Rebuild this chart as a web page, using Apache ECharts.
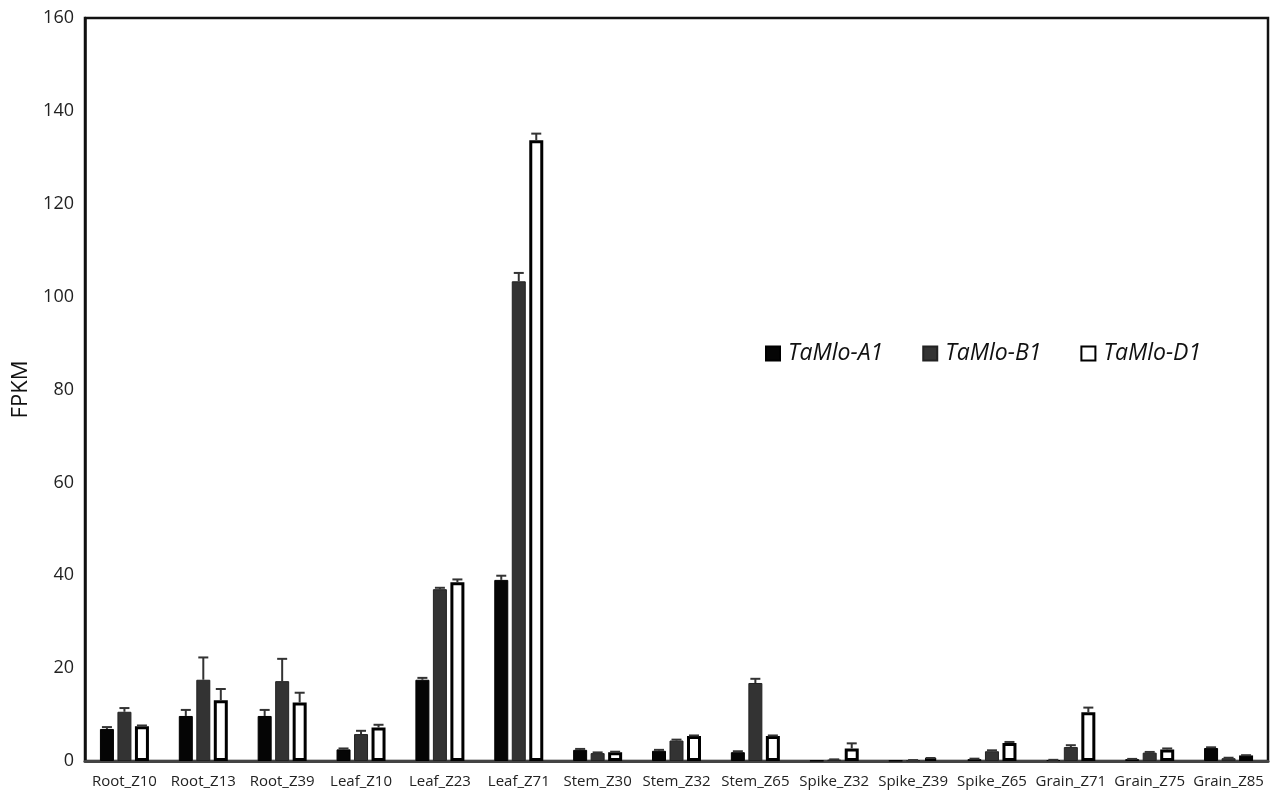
<!DOCTYPE html>
<html>
<head>
<meta charset="utf-8">
<script src="https://cdn.jsdelivr.net/npm/echarts@6/dist/echarts.min.js"></script>
<style>
  html, body { margin: 0; padding: 0; background: #fff; }
  #chart { width: 1276px; height: 792px; }
</style>
</head>
<body>
<div id="chart"></div>
<script>
// Tissue / developmental stage samples
const categories = ['Root_Z10', 'Root_Z13', 'Root_Z39', 'Leaf_Z10', 'Leaf_Z23', 'Leaf_Z71',
  'Stem_Z30', 'Stem_Z32', 'Stem_Z65', 'Spike_Z32', 'Spike_Z39', 'Spike_Z65',
  'Grain_Z71', 'Grain_Z75', 'Grain_Z85'];

// Mean FPKM per homoeolog and the upward error (SD)
const a1 = [6.9, 9.7, 9.7, 2.5, 17.5, 39.0, 2.4, 2.2, 1.9, 0.1, 0.1, 0.4, 0.2, 0.4, 2.8];
const a1Err = [0.4, 1.3, 1.3, 0.2, 0.4, 0.9, 0.2, 0.2, 0.2, 0, 0, 0.1, 0.05, 0.05, 0.15];
const b1 = [10.6, 17.5, 17.2, 5.8, 37.0, 103.3, 1.7, 4.4, 16.8, 0.3, 0.15, 2.1, 3.0, 1.8, 0.6];
const b1Err = [0.8, 4.8, 4.8, 0.7, 0.3, 1.8, 0.15, 0.2, 0.9, 0.05, 0.05, 0.2, 0.4, 0.15, 0.1];
const d1 = [7.5, 13.1, 12.6, 7.2, 38.5, 133.7, 1.9, 5.4, 5.4, 2.7, 0.6, 3.9, 10.5, 2.5, 1.2];
const d1Err = [0.15, 2.4, 2.1, 0.6, 0.6, 1.4, 0.1, 0.1, 0.1, 1.1, 0.05, 0.2, 1.0, 0.2, 0.05];

const seriesNames = ['TaMlo-A1', 'TaMlo-B1', 'TaMlo-D1'];
const yTicks = { min: 0, max: 160, interval: 20 };

const BAR_W = 14;
const BAR_GAP = 0.25;
const STEP = BAR_W * (1 + BAR_GAP);
const FONT = '"Open Sans", "Noto Sans", sans-serif';

// Upward-only error bars with a short cap, placed over the matching bar in each group
function errorBars(values, errs, slot) {
  return {
    type: 'custom',
    name: seriesNames[slot + 1] + ' SD',
    z: 5,
    silent: true,
    data: categories.map((c, i) => [i, values[i], errs[i]]),
    encode: { x: 0, y: 1 },
    renderItem: function (params, api) {
      const i = api.value(0), v = api.value(1), e = api.value(2);
      if (!e) return null;
      const base = api.coord([i, v]);
      const top = api.coord([i, v + e]);
      const x = base[0] + slot * STEP;
      const style = { stroke: '#333', lineWidth: 2 };
      return {
        type: 'group',
        children: [
          { type: 'line', shape: { x1: x, y1: base[1], x2: x, y2: top[1] }, style: style },
          { type: 'line', shape: { x1: x - 5, y1: top[1], x2: x + 5, y2: top[1] }, style: style }
        ]
      };
    }
  };
}

const chart = echarts.init(document.getElementById('chart'), null, { renderer: 'canvas' });
chart.setOption({
  animation: false,
  backgroundColor: '#fff',
  grid: {
    left: 85, right: 8, top: 18, bottom: 31,
    show: true, borderColor: '#111', borderWidth: 2.5, backgroundColor: 'transparent'
  },
  legend: {
    data: seriesNames.map(n => ({ name: n })),
    left: 760, top: 337,
    icon: 'rect', itemWidth: 14, itemHeight: 14, itemGap: 39,
    textStyle: { fontFamily: FONT, fontSize: 23, fontStyle: 'italic', color: '#111', padding: [0, 0, 0, 3] }
  },
  xAxis: {
    type: 'category',
    data: categories,
    axisLine: { lineStyle: { color: '#444', width: 3 } },
    axisTick: { show: false },
    axisLabel: { fontFamily: FONT, fontSize: 15, color: '#222', margin: 13, interval: 0 }
  },
  yAxis: {
    type: 'value',
    min: yTicks.min, max: yTicks.max, interval: yTicks.interval,
    name: 'FPKM', nameLocation: 'middle', nameGap: 44,
    nameTextStyle: { fontFamily: FONT, fontSize: 22, color: '#111' },
    axisLine: { show: true, lineStyle: { color: '#111', width: 2.5 } },
    axisTick: { show: false },
    splitLine: { show: false },
    axisLabel: { fontFamily: FONT, fontSize: 18, color: '#222', margin: 11 }
  },
  series: [
    { type: 'bar', name: seriesNames[0], data: a1, barWidth: BAR_W, barGap: '25%',
      itemStyle: { color: '#050505', borderColor: '#000', borderWidth: 1 } },
    { type: 'bar', name: seriesNames[1], data: b1, barWidth: BAR_W, barGap: '25%',
      itemStyle: { color: '#333333', borderColor: '#222', borderWidth: 1 } },
    { type: 'bar', name: seriesNames[2], data: d1, barWidth: BAR_W, barGap: '25%',
      itemStyle: { color: '#ffffff', borderColor: '#000', borderWidth: 3 } },
    errorBars(a1, a1Err, -1),
    errorBars(b1, b1Err, 0),
    errorBars(d1, d1Err, 1)
  ]
});
</script>
</body>
</html>
